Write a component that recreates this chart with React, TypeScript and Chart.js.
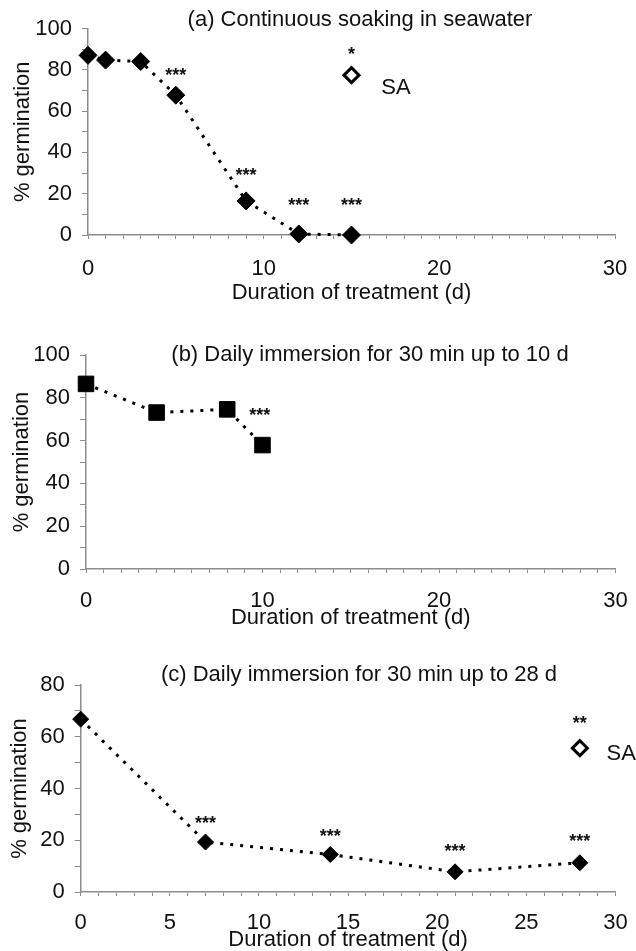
import React, { useEffect, useRef } from "react";
import { Chart, registerables } from "chart.js";

Chart.register(...registerables);

const FONT = "'Liberation Sans', Arial, Helvetica, sans-serif";
const TEXT = "#111111";
const AXIS = "#8c8c8c";
const FS = 22;

// ---------- Panel (a): continuous soaking ----------
const titleA = "(a) Continuous soaking in seawater";
const daysA = [0, 1, 3, 5, 9, 12, 15];
const germA = [87, 84.7, 84, 67.7, 16.5, 0.5, 0];
const saDaysA = [15];
const saGermA = [77.4];
const starTextA = ["***", "***", "***", "***", "*"];
const starDaysA = [5, 9, 12, 15, 15];
const starGermA = [79, 30.6, 16.1, 16.1, 89.5];
const saLabelA = { text: "SA", x: 16.7, y: 71 };

// ---------- Panel (b): daily immersion up to 10 d ----------
const titleB = "(b) Daily immersion for 30 min up to 10 d";
const daysB = [0, 4, 8, 10];
const germB = [86.5, 73.1, 74.6, 57.9];
const starTextB = ["***"];
const starDaysB = [9.85];
const starGermB = [73.6];

// ---------- Panel (c): daily immersion up to 28 d ----------
const titleC = "(c) Daily immersion for 30 min up to 28 d";
const daysC = [0, 7, 14, 21, 28];
const germC = [66.8, 19.3, 14.5, 7.8, 11.3];
const saDaysC = [28];
const saGermC = [55.6];
const starTextC = ["***", "***", "***", "***", "**"];
const starDaysC = [7, 14, 21, 28, 28];
const starGermC = [28, 23.1, 17.1, 20.9, 66.5];
const saLabelC = { text: "SA", x: 29.5, y: 53.5 };

const xTitle = "Duration of treatment (d)";
const yTitle = "% germination";

const W = 636;

type Panel = {
  top: number;
  height: number;
  area: { left: number; right: number; top: number; bottom: number };
  title: string;
  titleX: number;
  titleY: number;
  days: number[];
  germ: number[];
  pointStyle: string;
  pointRadius: number;
  saDays?: number[];
  saGerm?: number[];
  saRadius?: number;
  saLabel?: { text: string; x: number; y: number };
  starText: string[];
  starDays: number[];
  starGerm: number[];
  yMax: number;
  xLabelStep: number;
  yTitlePad: number;
  xTitlePad: number;
  xTickPad: number;
};

const panels: Panel[] = [
  {
    top: 0,
    height: 310,
    area: { left: 88, right: 615, top: 28.5, bottom: 235 },
    title: titleA,
    titleX: 360,
    titleY: 20,
    days: daysA,
    germ: germA,
    pointStyle: "rectRot",
    pointRadius: 9,
    saDays: saDaysA,
    saGerm: saGermA,
    saRadius: 7.5,
    saLabel: saLabelA,
    starText: starTextA,
    starDays: starDaysA,
    starGerm: starGermA,
    yMax: 100,
    xLabelStep: 10,
    yTitlePad: 12,
    xTitlePad: 6,
    xTickPad: 17,
  },
  {
    top: 310,
    height: 320,
    area: { left: 86, right: 615.5, top: 45, bottom: 259 },
    title: titleB,
    titleX: 370,
    titleY: 45,
    days: daysB,
    germ: germB,
    pointStyle: "rect",
    pointRadius: 11,
    starText: starTextB,
    starDays: starDaysB,
    starGerm: starGermB,
    yMax: 100,
    xLabelStep: 10,
    yTitlePad: 11,
    xTitlePad: 1,
    xTickPad: 15,
  },
  {
    top: 630,
    height: 321,
    area: { left: 80.7, right: 615.5, top: 55, bottom: 262 },
    title: titleC,
    titleX: 359,
    titleY: 45,
    days: daysC,
    germ: germC,
    pointStyle: "rectRot",
    pointRadius: 8,
    saDays: saDaysC,
    saGerm: saGermC,
    saRadius: 7.5,
    saLabel: saLabelC,
    starText: starTextC,
    starDays: starDaysC,
    starGerm: starGermC,
    yMax: 80,
    xLabelStep: 5,
    yTitlePad: 9,
    xTitlePad: 0,
    xTickPad: 14,
  },
];

function makeChart(canvas: HTMLCanvasElement, p: Panel) {
  const annot = {
    id: "annot",
    afterDatasetsDraw(chart: any) {
      const { ctx } = chart;
      const x = chart.scales.x;
      const y = chart.scales.y;
      ctx.save();
      ctx.fillStyle = TEXT;
      ctx.font = `bold 18px ${FONT}`;
      ctx.textAlign = "center";
      ctx.textBaseline = "alphabetic";
      p.starText.forEach((t, i) => {
        const px = x.getPixelForValue(p.starDays[i]);
        const py = y.getPixelForValue(p.starGerm[i]);
        const m = ctx.measureText(t);
        ctx.fillText(t, px, py + (m.actualBoundingBoxAscent - m.actualBoundingBoxDescent) / 2);
      });
      if (p.saLabel) {
        ctx.font = `${FS}px ${FONT}`;
        ctx.textAlign = "left";
        ctx.textBaseline = "middle";
        ctx.fillText(p.saLabel.text, x.getPixelForValue(p.saLabel.x), y.getPixelForValue(p.saLabel.y));
      }
      ctx.font = `${FS}px ${FONT}`;
      ctx.textAlign = "center";
      ctx.textBaseline = "middle";
      ctx.fillText(p.title, p.titleX, p.titleY);
      ctx.restore();
    },
  };

  const datasets: any[] = [
    {
      label: "seawater",
      data: p.days.map((d, i) => ({ x: d, y: p.germ[i] })),
      borderColor: "#000",
      backgroundColor: "#000",
      borderWidth: 3,
      borderDash: [3, 7],
      borderCapStyle: "butt",
      pointStyle: p.pointStyle,
      pointRadius: p.pointRadius,
      pointBorderWidth: 1,
      pointBackgroundColor: "#000",
      pointBorderColor: "#000",
      showLine: true,
      tension: 0,
      clip: false,
    },
  ];
  if (p.saDays && p.saGerm) {
    datasets.push({
      label: "SA",
      data: p.saDays.map((d, i) => ({ x: d, y: p.saGerm![i] })),
      showLine: false,
      pointStyle: "rectRot",
      pointRadius: p.saRadius,
      pointBorderWidth: 3,
      pointBackgroundColor: "#fff",
      pointBorderColor: "#000",
      clip: false,
    });
  }

  const tickFont = { family: FONT, size: FS };
  return new Chart(canvas, {
    type: "scatter",
    data: { datasets },
    plugins: [annot],
    options: {
      animation: false,
      responsive: false,
      events: [],
      layout: {
        padding: { left: 0, top: p.area.top, right: W - p.area.right, bottom: 0 },
      },
      plugins: {
        legend: { display: false },
        tooltip: { enabled: false },
        title: { display: false },
      },
      scales: {
        x: {
          type: "linear",
          min: 0,
          max: 30,
          afterFit: (s: any) => {
            s.height = p.height - p.area.bottom;
            s.paddingLeft = 0;
            s.paddingRight = 0;
          },
          ticks: {
            stepSize: 1,
            autoSkip: false,
            maxRotation: 0,
            padding: p.xTickPad,
            color: TEXT,
            font: tickFont,
            callback: (v: any) => (Number(v) % p.xLabelStep === 0 ? String(v) : ""),
          },
          grid: {
            drawOnChartArea: false,
            drawTicks: true,
            tickLength: 4,
            color: AXIS,
            lineWidth: 1,
          },
          border: { display: true, color: AXIS, width: 1.5 },
          title: {
            display: true,
            text: xTitle,
            color: TEXT,
            font: { family: FONT, size: FS, lineHeight: 1 },
            padding: { top: 0, bottom: p.xTitlePad },
          },
        },
        y: {
          type: "linear",
          min: 0,
          max: p.yMax,
          afterFit: (s: any) => {
            s.width = p.area.left;
            s.paddingTop = 0;
            s.paddingBottom = 0;
          },
          ticks: {
            stepSize: 10,
            autoSkip: false,
            padding: 10,
            color: TEXT,
            font: tickFont,
            callback: (v: any) => (Number(v) % 20 === 0 ? String(v) : ""),
          },
          grid: {
            drawOnChartArea: false,
            drawTicks: true,
            tickLength: 6,
            color: AXIS,
            lineWidth: 1,
          },
          border: { display: true, color: AXIS, width: 1.5 },
          title: {
            display: true,
            text: yTitle,
            color: TEXT,
            font: { family: FONT, size: FS, lineHeight: 1 },
            padding: { top: p.yTitlePad, bottom: 0 },
          },
        },
      },
    } as any,
  });
}

function PanelChart({ p }: { p: Panel }) {
  const ref = useRef<HTMLCanvasElement | null>(null);
  useEffect(() => {
    if (!ref.current) return;
    const chart = makeChart(ref.current, p);
    return () => chart.destroy();
  }, [p]);
  return (
    <canvas
      ref={ref}
      width={W}
      height={p.height}
      style={{ position: "absolute", left: 0, top: p.top, width: W, height: p.height }}
    />
  );
}

export default function App() {
  return (
    <div
      style={{
        position: "absolute",
        left: 0,
        top: 0,
        width: W,
        height: 951,
        background: "#fff",
        overflow: "hidden",
      }}
    >
      {panels.map((p, i) => (
        <PanelChart key={i} p={p} />
      ))}
    </div>
  );
}
